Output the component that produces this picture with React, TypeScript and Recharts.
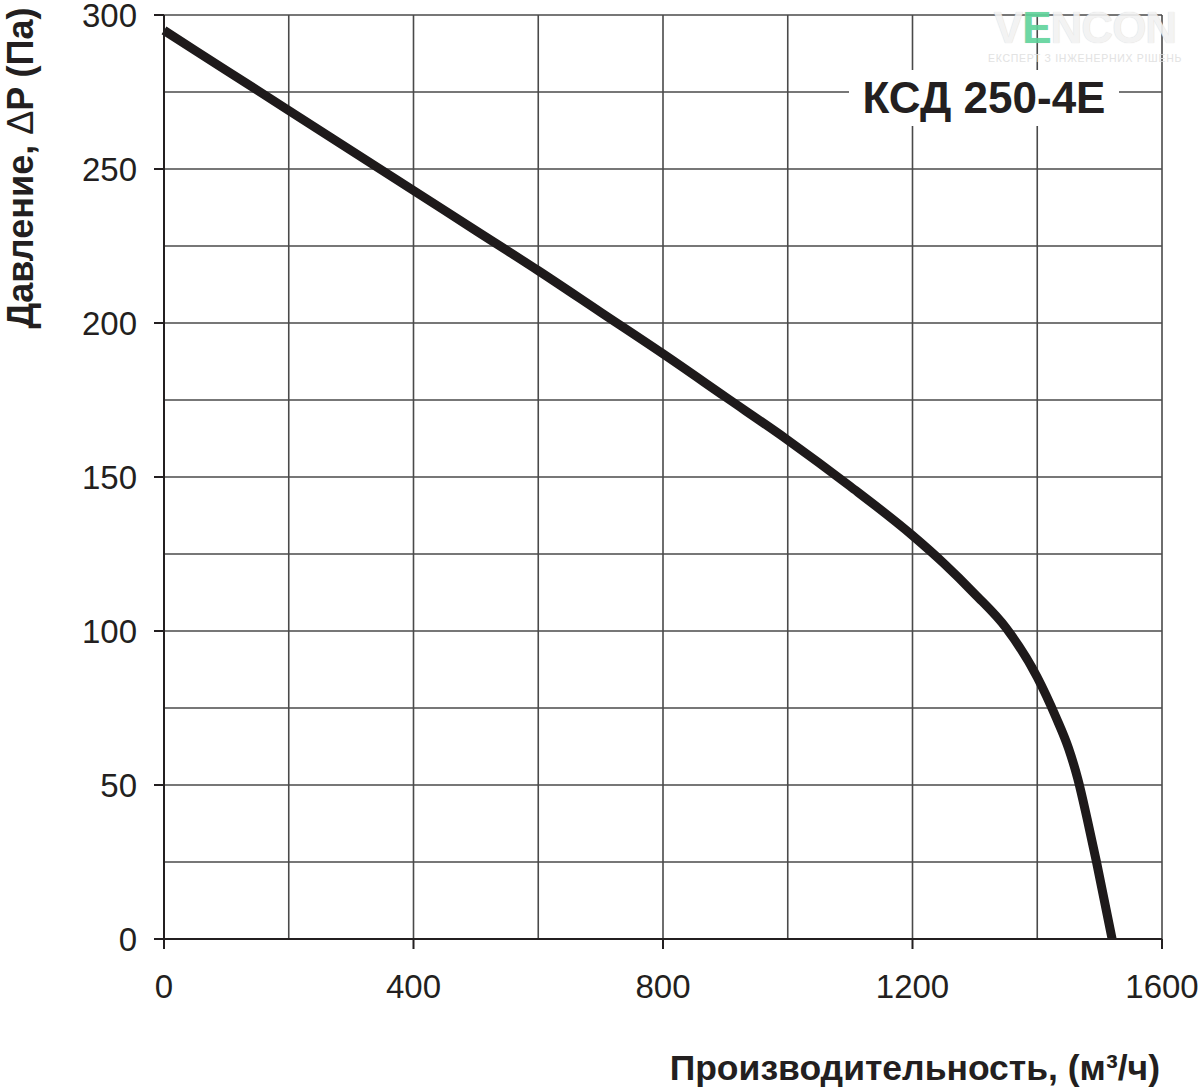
import { CartesianGrid, Label, Line, LineChart, XAxis, YAxis } from "recharts";

// Fan curve KСД 250-4E
const flowValues = [0, 100, 200, 300, 400, 500, 600, 700, 800, 900, 1000, 1100, 1200, 1250, 1300, 1350, 1400, 1430, 1450, 1465, 1480, 1495, 1520];
const pressureValues = [295, 282, 269, 256, 243, 230, 217, 203.5, 190, 176, 162, 147, 131, 122, 112, 101, 85, 72, 62, 52, 39, 25, 0];

const xTicks = [0, 400, 800, 1200, 1600];
const yTicks = [0, 50, 100, 150, 200, 250, 300];
const xGrid = [0, 200, 400, 600, 800, 1000, 1200, 1400, 1600];
const yGrid = [0, 25, 50, 75, 100, 125, 150, 175, 200, 225, 250, 275, 300];

const chartData = flowValues.map((flow, i) => ({ flow, pressure: pressureValues[i] }));

const W = 1200;
const H = 1089;
const FONT = "Arial, 'Liberation Sans', Helvetica, sans-serif";
const tickStyle = { fill: "#231f20", fontSize: 33, fontFamily: FONT };

export default function App() {
  return (
    <div style={{ position: "absolute", left: 0, top: 0, width: W, height: H, background: "#fff" }}>
      <LineChart width={W} height={H} data={chartData} margin={{ top: 15, right: 38, left: 0, bottom: 0 }}>
        <CartesianGrid
          stroke="#4a4a4a"
          strokeWidth={1.6}
          horizontalValues={yGrid}
          verticalValues={xGrid}
        />
        <XAxis
          dataKey="flow"
          type="number"
          domain={[0, 1600]}
          ticks={xTicks}
          height={150}
          tickSize={10}
          tickMargin={26}
          stroke="#231f20"
          strokeWidth={2}
          tick={tickStyle}
          interval={0}
        >
          <Label
            content={() => (
              <text
                x={1160}
                y={1080}
                textAnchor="end"
                fontFamily={FONT}
                fontWeight="bold"
                fontSize={35.5}
                fill="#231f20"
              >
                Производительность, (м³/ч)
              </text>
            )}
          />
        </XAxis>
        <YAxis
          type="number"
          domain={[0, 300]}
          ticks={yTicks}
          width={164}
          tickSize={10}
          tickMargin={17}
          stroke="#231f20"
          strokeWidth={2}
          tick={tickStyle}
          interval={0}
        >
          <Label
            content={() => (
              <text
                x={0}
                y={0}
                transform="translate(33 168) rotate(-90)"
                textAnchor="middle"
                fontFamily={FONT}
                fontSize={36}
                fill="#231f20"
              >
                <tspan fontWeight="bold">Давление, </tspan>
                <tspan>Δ</tspan>
                <tspan fontWeight="bold">P (Па)</tspan>
              </text>
            )}
          />
        </YAxis>
        <Line
          dataKey="pressure"
          type="monotone"
          stroke="#1e1a1b"
          strokeWidth={9}
          dot={false}
          activeDot={false}
          isAnimationActive={false}
        />
      </LineChart>

      <div
        style={{
          position: "absolute",
          left: 849,
          top: 70,
          width: 270,
          height: 56,
          background: "#fff",
          display: "flex",
          alignItems: "center",
          justifyContent: "center",
          fontFamily: FONT,
          fontWeight: "bold",
          fontSize: 44,
          color: "#231f20",
        }}
      >
        КСД 250-4E
      </div>

      <div style={{ position: "absolute", left: 988, top: 8, width: 194, textAlign: "center", fontFamily: FONT, opacity: 0.9 }}>
        <div
          style={{
            fontSize: 44,
            fontWeight: "bold",
            color: "#f2f2f2",
            lineHeight: "40px",
            letterSpacing: -1,
            textShadow: "0 0 1px #cfcfcf",
          }}
        >
          V<span style={{ color: "#5fd39b" }}>E</span>NCON
        </div>
        <div style={{ fontSize: 10.5, lineHeight: "12px", marginTop: 4, color: "#e0e0e0", letterSpacing: 0.7, whiteSpace: "nowrap" }}>
          ЕКСПЕРТ З ІНЖЕНЕРНИХ РІШЕНЬ
        </div>
      </div>
    </div>
  );
}
